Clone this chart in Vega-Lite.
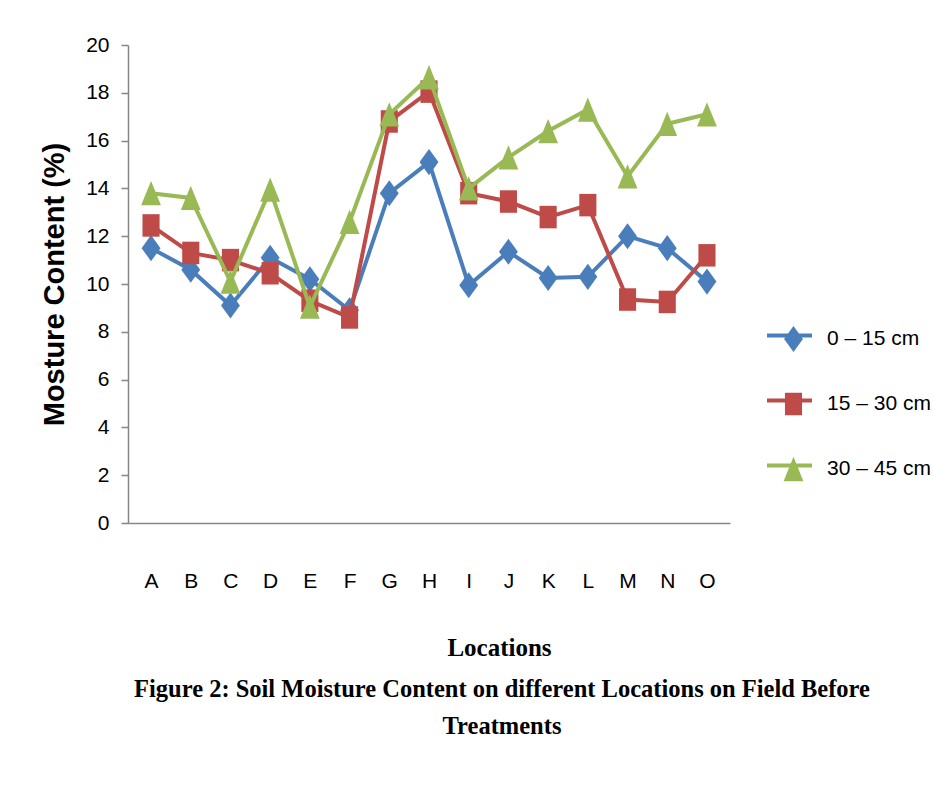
{
  "$schema": "https://vega.github.io/schema/vega-lite/v6.json",
  "width": 602,
  "height": 478,
  "autosize": {"type": "none"},
  "padding": {"left": 128, "top": 45, "right": 203, "bottom": 263},
  "background": "white",
  "config": {
    "view": {"stroke": null},
    "legend": {
      "orient": "none",
      "title": null,
      "padding": 0,
      "labelFont": "Liberation Sans",
      "labelFontSize": 21,
      "labelColor": "#000000"
    }
  },
  "title": {
    "text": ["Figure  2: Soil  Moisture Content on different Locations on Field Before", "Treatments"],
    "orient": "bottom",
    "anchor": "middle",
    "dx": 73,
    "offset": 18,
    "font": "Liberation Serif",
    "fontWeight": "bold",
    "fontSize": 24.5,
    "lineHeight": 37,
    "color": "#000000"
  },
  "data": {
    "values": [
      {"loc": "A", "depth": "0 – 15 cm", "value": 11.5},
      {"loc": "B", "depth": "0 – 15 cm", "value": 10.6},
      {"loc": "C", "depth": "0 – 15 cm", "value": 9.1},
      {"loc": "D", "depth": "0 – 15 cm", "value": 11.1},
      {"loc": "E", "depth": "0 – 15 cm", "value": 10.2},
      {"loc": "F", "depth": "0 – 15 cm", "value": 8.9},
      {"loc": "G", "depth": "0 – 15 cm", "value": 13.8},
      {"loc": "H", "depth": "0 – 15 cm", "value": 15.1},
      {"loc": "I", "depth": "0 – 15 cm", "value": 9.95},
      {"loc": "J", "depth": "0 – 15 cm", "value": 11.35},
      {"loc": "K", "depth": "0 – 15 cm", "value": 10.25},
      {"loc": "L", "depth": "0 – 15 cm", "value": 10.3},
      {"loc": "M", "depth": "0 – 15 cm", "value": 12.0},
      {"loc": "N", "depth": "0 – 15 cm", "value": 11.5},
      {"loc": "O", "depth": "0 – 15 cm", "value": 10.1},
      {"loc": "A", "depth": "15 – 30 cm", "value": 12.45},
      {"loc": "B", "depth": "15 – 30 cm", "value": 11.3},
      {"loc": "C", "depth": "15 – 30 cm", "value": 11.0},
      {"loc": "D", "depth": "15 – 30 cm", "value": 10.45},
      {"loc": "E", "depth": "15 – 30 cm", "value": 9.3},
      {"loc": "F", "depth": "15 – 30 cm", "value": 8.6},
      {"loc": "G", "depth": "15 – 30 cm", "value": 16.8},
      {"loc": "H", "depth": "15 – 30 cm", "value": 18.05},
      {"loc": "I", "depth": "15 – 30 cm", "value": 13.8},
      {"loc": "J", "depth": "15 – 30 cm", "value": 13.45},
      {"loc": "K", "depth": "15 – 30 cm", "value": 12.8},
      {"loc": "L", "depth": "15 – 30 cm", "value": 13.3},
      {"loc": "M", "depth": "15 – 30 cm", "value": 9.35},
      {"loc": "N", "depth": "15 – 30 cm", "value": 9.25},
      {"loc": "O", "depth": "15 – 30 cm", "value": 11.2},
      {"loc": "A", "depth": "30 – 45 cm", "value": 13.8},
      {"loc": "B", "depth": "30 – 45 cm", "value": 13.6},
      {"loc": "C", "depth": "30 – 45 cm", "value": 10.1},
      {"loc": "D", "depth": "30 – 45 cm", "value": 13.95},
      {"loc": "E", "depth": "30 – 45 cm", "value": 9.05},
      {"loc": "F", "depth": "30 – 45 cm", "value": 12.6},
      {"loc": "G", "depth": "30 – 45 cm", "value": 17.1},
      {"loc": "H", "depth": "30 – 45 cm", "value": 18.65},
      {"loc": "I", "depth": "30 – 45 cm", "value": 14.0},
      {"loc": "J", "depth": "30 – 45 cm", "value": 15.3},
      {"loc": "K", "depth": "30 – 45 cm", "value": 16.4},
      {"loc": "L", "depth": "30 – 45 cm", "value": 17.3},
      {"loc": "M", "depth": "30 – 45 cm", "value": 14.5},
      {"loc": "N", "depth": "30 – 45 cm", "value": 16.7},
      {"loc": "O", "depth": "30 – 45 cm", "value": 17.1}
    ]
  },
  "encoding": {
    "x": {
      "field": "loc",
      "type": "nominal",
      "scale": {"type": "point", "padding": 0.58},
      "axis": {
        "title": "Locations",
        "labelAngle": 0,
        "ticks": false,
        "tickSize": 0,
        "grid": false,
        "domainColor": "#868686",
        "domainWidth": 1.5,
        "labelPadding": 47,
        "labelFont": "Liberation Sans",
        "labelFontSize": 21,
        "labelColor": "#000000",
        "titleFont": "Liberation Serif",
        "titleFontWeight": "bold",
        "titleFontSize": 25,
        "titleColor": "#000000",
        "titleX": 371,
        "titleY": 132,
        "titleBaseline": "alphabetic"
      }
    },
    "y": {
      "field": "value",
      "type": "quantitative",
      "scale": {"domain": [0, 20], "nice": false, "zero": true},
      "axis": {
        "values": [0, 2, 4, 6, 8, 10, 12, 14, 16, 18, 20],
        "title": "Mosture Content (%)",
        "grid": false,
        "domainColor": "#868686",
        "domainWidth": 1.5,
        "tickColor": "#868686",
        "tickWidth": 1.5,
        "tickSize": 7,
        "labelPadding": 12,
        "labelFont": "Liberation Sans",
        "labelFontSize": 21,
        "labelColor": "#000000",
        "titleFont": "Liberation Sans",
        "titleFontWeight": "bold",
        "titleFontSize": 29,
        "titleColor": "#000000",
        "titlePadding": 16
      }
    }
  },
  "resolve": {"scale": {"color": "independent"}, "legend": {"color": "independent"}},
  "layer": [
    {
      "transform": [{"filter": "datum.depth === '0 – 15 cm'"}],
      "mark": {"type": "line", "strokeWidth": 4},
      "encoding": {
        "color": {
          "field": "depth", "type": "nominal",
          "scale": {"domain": ["0 – 15 cm"], "range": ["#4A7EBB"]},
          "legend": {"legendX": 637, "legendY": 266, "symbolType": "stroke", "symbolSize": 2025, "symbolStrokeWidth": 4, "labelOpacity": 0}
        }
      }
    },
    {
      "transform": [{"filter": "datum.depth === '0 – 15 cm'"}],
      "mark": {"type": "point", "filled": true, "size": 81, "opacity": 1, "shape": "M0,-2.9L2.1,0L0,2.9L-2.1,0Z"},
      "encoding": {
        "color": {
          "field": "depth", "type": "nominal",
          "scale": {"domain": ["0 – 15 cm"], "range": ["#4A7EBB"]},
          "legend": {"legendX": 655, "legendY": 283.5, "symbolSize": 81, "symbolStrokeWidth": 0, "labelOffset": 23}
        }
      }
    },
    {
      "transform": [{"filter": "datum.depth === '15 – 30 cm'"}],
      "mark": {"type": "line", "strokeWidth": 4},
      "encoding": {
        "color": {
          "field": "depth", "type": "nominal",
          "scale": {"domain": ["15 – 30 cm"], "range": ["#BE4B48"]},
          "legend": {"legendX": 637, "legendY": 331, "symbolType": "stroke", "symbolSize": 2025, "symbolStrokeWidth": 4, "labelOpacity": 0}
        }
      }
    },
    {
      "transform": [{"filter": "datum.depth === '15 – 30 cm'"}],
      "mark": {"type": "point", "filled": true, "size": 81, "opacity": 1, "shape": "M-1.9,-2.5H1.9V2.5H-1.9Z"},
      "encoding": {
        "color": {
          "field": "depth", "type": "nominal",
          "scale": {"domain": ["15 – 30 cm"], "range": ["#BE4B48"]},
          "legend": {"legendX": 655, "legendY": 348.5, "symbolSize": 81, "symbolStrokeWidth": 0, "labelOffset": 23}
        }
      }
    },
    {
      "transform": [{"filter": "datum.depth === '30 – 45 cm'"}],
      "mark": {"type": "line", "strokeWidth": 4},
      "encoding": {
        "color": {
          "field": "depth", "type": "nominal",
          "scale": {"domain": ["30 – 45 cm"], "range": ["#98B954"]},
          "legend": {"legendX": 637, "legendY": 396, "symbolType": "stroke", "symbolSize": 2025, "symbolStrokeWidth": 4, "labelOpacity": 0}
        }
      }
    },
    {
      "transform": [{"filter": "datum.depth === '30 – 45 cm'"}],
      "mark": {"type": "point", "filled": true, "size": 81, "opacity": 1, "shape": "M0,-2.7L2.2,2.7H-2.2Z"},
      "encoding": {
        "color": {
          "field": "depth", "type": "nominal",
          "scale": {"domain": ["30 – 45 cm"], "range": ["#98B954"]},
          "legend": {"legendX": 655, "legendY": 413.5, "symbolSize": 81, "symbolStrokeWidth": 0, "labelOffset": 23}
        }
      }
    }
  ]
}
